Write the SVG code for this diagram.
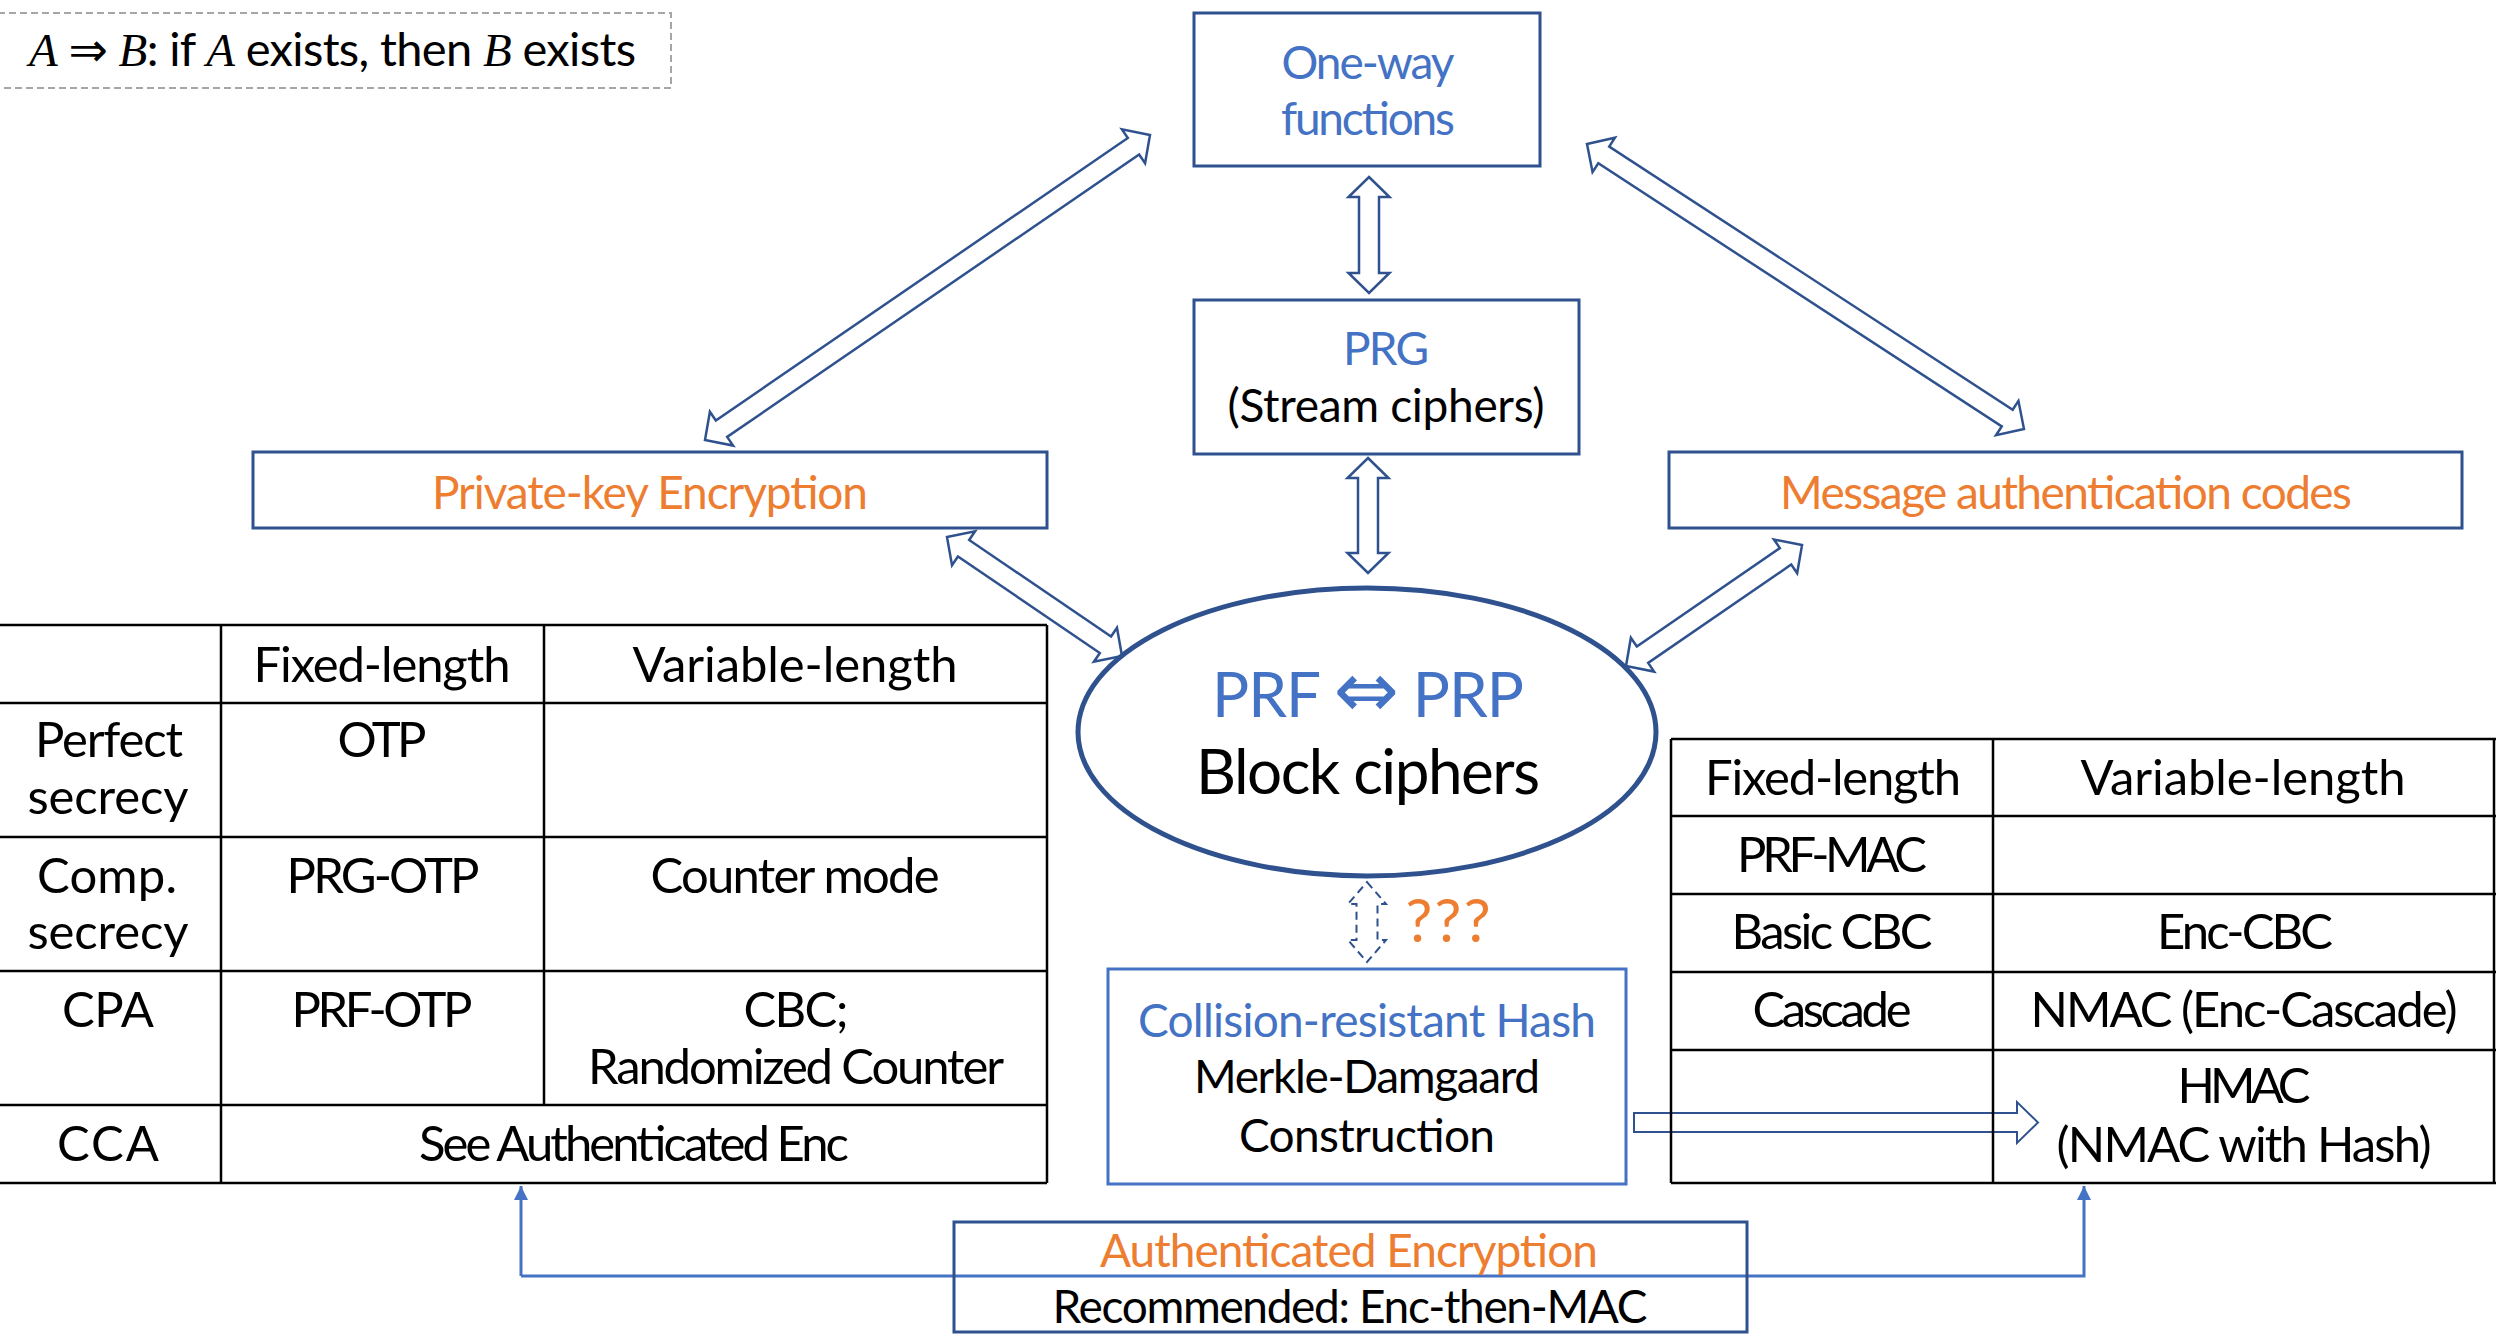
<svg xmlns="http://www.w3.org/2000/svg" width="2496" height="1341" viewBox="0 0 2496 1341">
<defs>
<style>
text{font-family:Lato,"Open Sans","DejaVu Sans",sans-serif;text-anchor:middle;fill:#000}
.blue{fill:#4472C4}
.orange{fill:#ED7D31}
.box{fill:none;stroke:#2F528F;stroke-width:3}
.boxl{fill:none;stroke:#4472C4;stroke-width:3}
.dbl{fill:#fff;stroke:#2F528F;stroke-width:2.5;stroke-linejoin:miter}
.grid{stroke:#000;stroke-width:2.5;fill:none}
.f44{font-size:46px}
.f47{font-size:49px}
.f60{font-size:62px}
.sym{font-family:"DejaVu Sans",sans-serif}
.math{font-family:"Liberation Serif",serif;font-style:italic}
</style>
<marker id="tri" markerUnits="userSpaceOnUse" markerWidth="16" markerHeight="14" refX="14" refY="7" orient="auto">
<path d="M0,0 L14,7 L0,14 z" fill="#4472C4"/>
</marker>
</defs>

<g id="legend">
<rect x="-2" y="13" width="673" height="75" fill="none" stroke="#A6A6A6" stroke-width="2" stroke-dasharray="7 4"/>
<text x="29" y="66" style="text-anchor:start;font-size:47px" textLength="607"><tspan class="math">A</tspan> <tspan class="sym">⇒</tspan> <tspan class="math">B</tspan>: if <tspan class="math">A</tspan> exists, then <tspan class="math">B</tspan> exists</text>
</g>

<g id="connectors">
<!-- One-way <-> PRG -->
<polygon class="dbl" transform="translate(1369,177) rotate(90)" points="0,0 20,-20.5 20,-10 96,-10 96,-20.5 116,0 96,20.5 96,10 20,10 20,20.5"/>
<!-- PRG <-> ellipse -->
<polygon class="dbl" transform="translate(1368,458) rotate(90)" points="0,0 20,-20.5 20,-10 95,-10 95,-20.5 115,0 95,20.5 95,10 20,10 20,20.5"/>
<!-- Private-key <-> One-way -->
<polygon class="dbl" transform="translate(705,440) rotate(-34.43)" points="0,0 20,-20.5 20,-10 519.5,-10 519.5,-20.5 539.5,0 519.5,20.5 519.5,10 20,10 20,20.5"/>
<!-- One-way <-> MAC -->
<polygon class="dbl" transform="translate(1587,144) rotate(33.11)" points="0,0 20,-20.5 20,-10 501.7,-10 501.7,-20.5 521.7,0 501.7,20.5 501.7,10 20,10 20,20.5"/>
<!-- Private-key <-> ellipse -->
<polygon class="dbl" transform="translate(947,537) rotate(34.21)" points="0,0 20,-20.5 20,-10 191.6,-10 191.6,-20.5 211.6,0 191.6,20.5 191.6,10 20,10 20,20.5"/>
<!-- MAC <-> ellipse -->
<polygon class="dbl" transform="translate(1626,666) rotate(-34.5)" points="0,0 20,-20.5 20,-10 193.6,-10 193.6,-20.5 213.6,0 193.6,20.5 193.6,10 20,10 20,20.5"/>
<!-- ellipse <-> hash (dashed) -->
<polygon transform="translate(1367,882) rotate(90)" points="0,0 22,-19 22,-10.5 58,-10.5 58,-19 80,0 58,19 58,10.5 22,10.5 22,19" fill="none" stroke="#2F528F" stroke-width="2" stroke-dasharray="8 5"/>
<!-- hash -> HMAC -->
<polygon points="1634,1113 2017,1113 2017,1102 2038,1122.5 2017,1143 2017,1132 1634,1132" fill="none" stroke="#2F528F" stroke-width="2"/>
<!-- authenticated encryption -> both tables -->
<path d="M521,1276 V1186" fill="none" stroke="#4472C4" stroke-width="3" marker-end="url(#tri)"/>
<path d="M521,1276 H2084 V1186" fill="none" stroke="#4472C4" stroke-width="3" marker-end="url(#tri)"/>
</g>

<g id="owf">
<rect class="box" x="1194" y="13" width="346" height="153"/>
<text x="1368" y="79" class="blue f44" textLength="173">One-way</text>
<text x="1368" y="135" class="blue f44" textLength="174">functions</text>
</g>

<g id="prg">
<rect class="box" x="1194" y="300" width="385" height="154"/>
<text x="1386" y="365" class="blue f44" textLength="86">PRG</text>
<text x="1386" y="422" class="f44" textLength="317">(Stream ciphers)</text>
</g>

<g id="pke">
<rect class="box" x="253" y="452" width="794" height="76"/>
<text x="650" y="509" class="orange f44" textLength="436">Private-key Encryption</text>
</g>

<g id="mac">
<rect class="box" x="1669" y="452" width="793" height="76"/>
<text x="2066" y="509" class="orange f44" textLength="572">Message authentication codes</text>
</g>

<g id="block">
<ellipse cx="1367" cy="732" rx="289" ry="144" fill="none" stroke="#2F528F" stroke-width="5"/>
<text x="1368" y="717" class="blue f60" textLength="312">PRF <tspan class="sym" style="font-size:78px">⇔</tspan> PRP</text>
<text x="1368" y="794" class="f60" textLength="344">Block ciphers</text>
</g>

<g id="qqq">
<text x="1448" y="942" class="orange" style="font-size:60px" textLength="85">???</text>
</g>

<g id="hash">
<rect class="boxl" x="1108" y="969" width="518" height="215"/>
<text x="1367" y="1037" class="blue f44" textLength="458">Collision-resistant Hash</text>
<text x="1367" y="1093" class="f44" textLength="346">Merkle-Damgaard</text>
<text x="1367" y="1152" class="f44" textLength="256">Construction</text>
</g>

<g id="enc-table">
<path class="grid" d="M0,625 H1047 M0,703 H1047 M0,837 H1047 M0,971 H1047 M0,1105 H1047 M0,1183 H1047 M221,625 V1183 M544,625 V1105 M1047,625 V1183"/>
<g class="f47">
<text x="382" y="682" textLength="257">Fixed-length</text>
<text x="795" y="682" textLength="325">Variable-length</text>
<text x="109" y="757" textLength="148">Perfect</text>
<text x="108" y="814" textLength="161">secrecy</text>
<text x="382" y="757" textLength="89">OTP</text>
<text x="107" y="893" textLength="140">Comp.</text>
<text x="108" y="949" textLength="161">secrecy</text>
<text x="383" y="893" textLength="193">PRG-OTP</text>
<text x="795" y="893" textLength="289">Counter mode</text>
<text x="108" y="1027" textLength="92">CPA</text>
<text x="382" y="1027" textLength="181">PRF-OTP</text>
<text x="796" y="1027" textLength="105">CBC;</text>
<text x="796" y="1084" textLength="416">Randomized Counter</text>
<text x="108" y="1161" textLength="102">CCA</text>
<text x="634" y="1161" textLength="430">See Authenticated Enc</text>
</g>
</g>

<g id="mac-table">
<path class="grid" d="M1671,739 H2496 M1671,816 H2496 M1671,894 H2496 M1671,972 H2496 M1671,1050 H2496 M1671,1183 H2496 M1671,739 V1183 M1993,739 V1183 M2494,739 V1183"/>
<g class="f47">
<text x="1833" y="795" textLength="256">Fixed-length</text>
<text x="2243" y="795" textLength="325">Variable-length</text>
<text x="1832" y="872" textLength="190">PRF-MAC</text>
<text x="1832" y="949" textLength="201">Basic CBC</text>
<text x="2245" y="949" textLength="176">Enc-CBC</text>
<text x="1832" y="1027" textLength="159">Cascade</text>
<text x="2244" y="1027" textLength="427">NMAC (Enc-Cascade)</text>
<text x="2244" y="1103" textLength="133">HMAC</text>
<text x="2244" y="1162" textLength="375">(NMAC with Hash)</text>
</g>
</g>

<g id="ae">
<rect class="box" x="954" y="1222" width="793" height="110"/>
<text x="1349" y="1267" class="orange f44" textLength="498">Authenticated Encryption</text>
<text x="1350" y="1323" class="f44" textLength="595">Recommended: Enc-then-MAC</text>
</g>
</svg>
